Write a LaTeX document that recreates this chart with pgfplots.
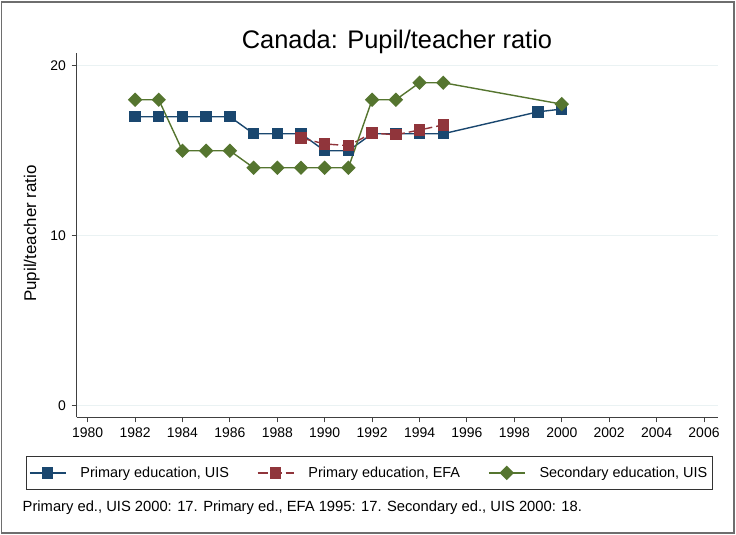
\documentclass[border=0pt]{standalone}
\usepackage{pgfplots}
\pgfplotsset{compat=1.18}
\usepackage{fontspec}
\setmainfont{Liberation Sans}
\definecolor{snavy}{RGB}{26,71,111}
\definecolor{smaroon}{RGB}{144,53,59}
\definecolor{sgreen}{RGB}{85,117,47}
\definecolor{sgrid}{RGB}{234,242,243}
\definecolor{sframe}{RGB}{110,110,110}
\begin{document}
\begin{tikzpicture}[x=1bp,y=1bp]
\path[fill=white] (0,0) rectangle (736,535);
\draw[sframe, line width=1.5bp] (1.5,1.8) rectangle (734,533.2);
\begin{axis}[
  at={(76.5bp,117.5bp)}, anchor=south west,
  scale only axis, width=641bp, height=364.5bp,
  xmin=1979.53, xmax=2006.57, ymin=-0.69, ymax=20.75,
  axis x line*=bottom, axis y line*=left,
  axis line style={black!75, line width=0.9bp},
  xtick={1980,1982,...,2006}, ytick={0,10,20},
  tick align=outside, major tick length=5bp,
  tick style={black!75, line width=0.9bp},
  ymajorgrids, grid style={sgrid, line width=1.2bp},
  /pgf/number format/1000 sep={},
  /pgf/number format/assume math mode=true,
  tick label style={font=\fontsize{14}{16}\selectfont},
  xticklabel style={yshift=-2bp},
  yticklabel style={xshift=-2bp},
  legend columns=3,
  legend cell align=left,
  legend style={at={(-0.0793,-0.1056)}, anchor=north west,
    draw=black!80, line width=0.8bp, font=\fontsize{14.5}{17}\selectfont,
    inner xsep=3bp, inner ysep=8.5bp},
  /tikz/every odd column/.append style={column sep=12bp},
  /tikz/every even column/.append style={column sep=26bp},
  legend image code/.code={\draw[mark repeat=2,mark phase=2,#1] plot coordinates {(0bp,0bp) (18bp,0bp) (36bp,0bp)};},
]
\addplot[snavy, line width=1.4bp, mark=square*, mark size=5bp] coordinates {
(1982,17) (1983,17) (1984,17) (1985,17) (1986,17) (1987,16) (1988,16) (1989,16)
(1990,15) (1991,15) (1992,16) (1993,16) (1994,16) (1995,16) (1999,17.29) (2000,17.45)};
\addlegendentry{Primary education, UIS}
\addplot[smaroon, line width=1.4bp, dash pattern=on 10bp off 4bp, mark=square*, mark size=5bp, mark options={solid}] coordinates {
(1989,15.75) (1990,15.4) (1991,15.3) (1992,16.04) (1993,15.94) (1994,16.22) (1995,16.52)};
\addlegendentry{Primary education, EFA}
\addplot[sgreen, line width=1.4bp, mark=square*, mark size=4.4bp, mark options={rotate=45}] coordinates {
(1982,18) (1983,18) (1984,15) (1985,15) (1986,15) (1987,14) (1988,14) (1989,14)
(1990,14) (1991,14) (1992,18) (1993,18) (1994,19) (1995,19) (2000,17.74)};
\addlegendentry{Secondary education, UIS}
\end{axis}
\node[anchor=base, font=\fontsize{25.5}{30}\selectfont] at (397,486) {Canada: Pupil/teacher ratio};
\node[anchor=base, rotate=90, font=\fontsize{17}{20}\selectfont] at (36,301.5) {Pupil/teacher ratio};
\node[anchor=base west, inner sep=0pt, font=\fontsize{14.8}{17}\selectfont] at (22.5,23) {Primary ed., UIS 2000: 17. Primary ed., EFA 1995: 17. Secondary ed., UIS 2000: 18.};
\end{tikzpicture}
\end{document}
